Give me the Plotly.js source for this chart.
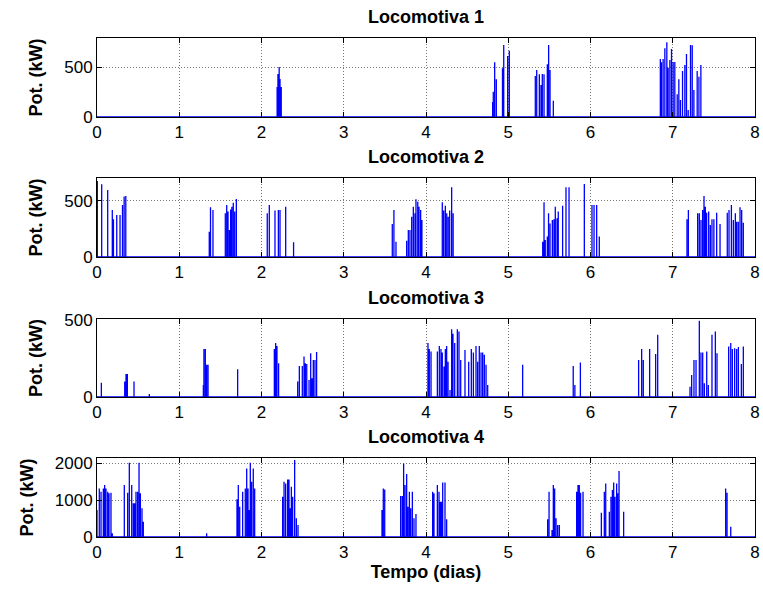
<!DOCTYPE html>
<html>
<head>
<meta charset="utf-8">
<script src="https://cdn.plot.ly/plotly-3.0.1.min.js"></script>
<style>html,body{margin:0;padding:0;background:#fff;}#chart{width:763px;height:591px;}</style>
</head>
<body>
<div id="chart"></div>
<script>
// ---- data: spike start times (days) and power (kW) per locomotive ----
const seriesStart = 0;
const seriesEnd = 8;
const xTicks = [0, 1, 2, 3, 4, 5, 6, 7, 8];
const titles = ['Locomotiva 1', 'Locomotiva 2', 'Locomotiva 3', 'Locomotiva 4'];
const yTicks1 = [0, 500];
const yTicks2 = [0, 500];
const yTicks3 = [0, 500];
const yTicks4 = [0, 1000, 2000];
const yMax = [790, 705, 505, 2135];

const loco1T = [2.19, 2.20, 2.215, 2.225, 2.24,
  4.81, 4.818, 4.835, 4.855, 4.93, 4.945, 4.993, 5.013,
  5.329, 5.346, 5.378, 5.398, 5.414, 5.435, 5.475, 5.491, 5.508, 5.548,
  6.849, 6.863, 6.883, 6.904, 6.928, 6.944, 6.965, 6.985, 7.005, 7.025, 7.054, 7.074, 7.094, 7.119, 7.147, 7.167, 7.188, 7.216, 7.237, 7.257, 7.297, 7.318, 7.342];
const loco1P = [300, 430, 500, 380, 300,
  150, 253, 547, 377, 487, 720, 610, 663,
  410, 470, 427, 320, 430, 427, 527, 720, 470, 163,
  580, 547, 580, 687, 747, 493, 570, 680, 550, 550, 227, 377, 170, 460, 520, 630, 70, 720, 717, 270, 460, 403, 520];

const loco2T = [0.004, 0.057, 0.13, 0.186, 0.2, 0.24, 0.28, 0.31, 0.33, 0.35,
  1.365, 1.38, 1.41, 1.56, 1.577, 1.593, 1.61, 1.625, 1.64, 1.657, 1.674, 1.694,
  2.07, 2.095, 2.164, 2.205, 2.225, 2.294, 2.39,
  3.59, 3.61, 3.635, 3.765, 3.785, 3.805, 3.826, 3.846, 3.866, 3.878, 3.9, 3.915, 3.935, 3.95,
  4.198, 4.215, 4.235, 4.252, 4.27, 4.288, 4.312, 4.33,
  5.419, 5.435, 5.45, 5.475, 5.49, 5.508, 5.536, 5.556, 5.572, 5.593, 5.608, 5.661, 5.702, 5.739, 5.925,
  6.018, 6.043, 6.075, 6.107,
  7.173, 7.19, 7.303, 7.323, 7.343, 7.363, 7.38, 7.396, 7.412, 7.437, 7.457, 7.477, 7.5, 7.534, 7.575, 7.663, 7.684, 7.713, 7.737, 7.761, 7.777, 7.797, 7.818, 7.838, 7.858];
const loco2P = [679, 649, 598, 420, 336, 375, 375, 464, 539, 545,
  226, 443, 420, 390, 464, 405, 241, 425, 449, 485, 405, 518,
  390, 464, 414, 420, 420, 449, 131,
  295, 420, 137, 146, 241, 241, 360, 449, 390, 515, 494, 449, 420, 330,
  488, 414, 458, 390, 360, 414, 622, 390,
  137, 488, 152, 182, 390, 300, 330, 336, 449, 345, 405, 458, 622, 622, 652,
  464, 464, 464, 182,
  336, 420, 390, 390, 330, 420, 545, 449, 396, 405, 286, 336, 336, 396, 295, 396, 420, 464, 330, 390, 315, 315, 443, 420, 306];

const loco3T = [0.053, 0.337, 0.353, 0.369, 0.45, 0.636,
  1.293, 1.30, 1.317, 1.333, 1.35, 1.71,
  2.156, 2.172, 2.188, 2.208,
  2.44, 2.46, 2.496, 2.517, 2.533, 2.55, 2.578, 2.598, 2.614, 2.63, 2.65, 2.67,
  4.024, 4.04, 4.061, 4.138, 4.162, 4.182, 4.198, 4.219, 4.235, 4.251, 4.268, 4.292, 4.312, 4.328, 4.349, 4.381, 4.401, 4.422, 4.474, 4.519, 4.551, 4.576, 4.608, 4.628, 4.648, 4.669, 4.689, 4.709, 4.73, 4.75,
  5.175, 5.79, 5.81, 5.877,
  6.585, 6.622, 6.642, 6.719, 6.792, 6.817,
  7.21, 7.23, 7.258, 7.283, 7.323, 7.343, 7.364, 7.384, 7.413, 7.433, 7.477, 7.518, 7.538, 7.68, 7.705, 7.725, 7.753, 7.777, 7.798, 7.834, 7.858];
const loco3P = [93, 100, 149, 149, 100, 19,
  78, 310, 310, 208, 208, 180,
  310, 349, 331, 219,
  100, 201, 201, 262, 219, 214, 110, 284, 121, 240, 240, 292,
  349, 310, 294, 294, 331, 310, 288, 197, 310, 331, 229, 45, 439, 409, 349, 439, 424, 240, 305, 229, 310, 288, 331, 229, 331, 288, 288, 273, 208, 78,
  208, 201, 78, 223,
  240, 310, 240, 310, 279, 403,
  67, 143, 240, 240, 494, 288, 288, 89, 294, 78, 403, 424, 284, 327, 349, 310, 316, 310, 323, 214, 327];

const loco4T = [0.0, 0.028, 0.049, 0.077, 0.093, 0.109, 0.13, 0.146, 0.17, 0.186,
  0.332, 0.373, 0.393, 0.422, 0.442, 0.458, 0.474, 0.494, 0.511, 0.527, 0.547, 0.563,
  1.333,
  1.702, 1.718, 1.735, 1.771, 1.803, 1.82, 1.836, 1.852, 1.864, 1.88, 1.9, 1.917,
  2.257, 2.274, 2.294, 2.318, 2.334, 2.35, 2.363, 2.379, 2.403, 2.424, 2.444,
  3.465, 3.481, 3.498, 3.692, 3.712, 3.728, 3.745, 3.765, 3.781, 3.798, 3.814, 3.834, 3.854, 3.878,
  4.081, 4.097, 4.138, 4.158, 4.174, 4.19, 4.203, 4.231, 4.251,
  5.479, 5.496, 5.532, 5.548, 5.564, 5.581, 5.601, 5.621,
  5.832, 5.848, 5.864, 5.88, 5.909,
  6.132, 6.168, 6.185, 6.229, 6.249, 6.266, 6.282, 6.298, 6.318, 6.33, 6.347, 6.403,
  7.643, 7.66, 7.705];
const loco4P = [729, 1314, 1224, 1314, 1404, 1314, 1224, 1179, 1197, 100,
  1404, 1197, 2007, 1404, 909, 909, 1224, 1224, 2007, 1179, 774, 414,
  100,
  1017, 1404, 819, 1224, 1314, 1854, 1314, 729, 2007, 1494, 1854, 1314,
  1089, 1494, 1449, 1557, 1557, 774, 1359, 1089, 2079, 504, 324,
  729, 1314, 1287, 1107, 1107, 1989, 1404, 1701, 819, 1224, 774, 1224, 504, 621,
  1224, 1179, 1404, 1224, 954, 954, 1476, 1476, 477,
  477, 1224, 189, 1404, 1314, 504, 324, 324,
  1224, 1404, 1404, 1197, 1224,
  657, 1224, 1449, 684, 1089, 1269, 1476, 1089, 1449, 1179, 1782, 684,
  1314, 1197, 279];

// ---- build chart ----
const allT = [loco1T, loco2T, loco3T, loco4T];
const allP = [loco1P, loco2P, loco3P, loco4P];
const allYT = [yTicks1, yTicks2, yTicks3, yTicks4];

function buildSeries(T, P) {
  const x = [seriesStart], y = [0];
  for (let i = 0; i < T.length; i++) {
    x.push(T[i], T[i], T[i]);
    y.push(0, P[i], 0);
  }
  x.push(seriesEnd); y.push(0);
  return {x, y};
}

const FONT = 'Liberation Sans, Arial, sans-serif';
const tops = [38, 178, 319, 458];
const bots = [117, 257, 397, 537];
const H = 591, MT = 38, MB = 54;
const PH = H - MT - MB;

const traces = [];
const layout = {
  width: 763, height: 591,
  margin: {l: 97, r: 8, t: MT, b: MB},
  paper_bgcolor: '#fff', plot_bgcolor: '#fff',
  showlegend: false,
  font: {family: FONT, color: '#000', size: 17},
  annotations: []
};

for (let k = 0; k < 4; k++) {
  const s = buildSeries(allT[k], allP[k]);
  const n = k + 1;
  traces.push({
    x: s.x, y: s.y, type: 'scatter', mode: 'lines',
    xaxis: 'x' + n, yaxis: 'y' + n,
    line: {color: '#0000ff', width: 1.3, simplify: false},
    hoverinfo: 'skip'
  });
  const d0 = (H - MB - bots[k]) / PH;
  const d1 = (H - MB - tops[k]) / PH;
  const common = {
    ticks: 'inside', ticklen: 5, tickwidth: 1, tickcolor: '#000',
    showline: true, linecolor: '#000', linewidth: 1, mirror: 'allticks',
    showgrid: true, gridcolor: '#777', griddash: '1px,2px', gridwidth: 1,
    zeroline: false, tickfont: {family: FONT, size: 17, color: '#000'}
  };
  layout['xaxis' + n] = Object.assign({}, common, {
    domain: [0, 1], anchor: 'y' + n, range: [0, 8],
    tickmode: 'array', tickvals: xTicks, ticktext: xTicks.map(String)
  });
  if (k === 3) {
    layout['xaxis' + n].title = {text: 'Tempo (dias)', font: {family: FONT, size: 18, weight: 'bold'}, standoff: 2};
  }
  layout['yaxis' + n] = Object.assign({}, common, {
    domain: [d0, d1], anchor: 'x' + n, range: [0, yMax[k]],
    tickmode: 'array', tickvals: allYT[k], ticktext: allYT[k].map(String),
    title: {text: 'Pot. (kW)', font: {family: FONT, size: 18, weight: 'bold'}, standoff: 16}
  });
  layout.annotations.push({
    text: titles[k], xref: 'paper', yref: 'paper', x: 0.5, y: d1,
    xanchor: 'center', yanchor: 'bottom', yshift: 9, showarrow: false,
    font: {family: FONT, size: 18, weight: 'bold', color: '#000'}
  });
}

Plotly.newPlot('chart', traces, layout, {staticPlot: true, displayModeBar: false});
</script>
</body>
</html>
